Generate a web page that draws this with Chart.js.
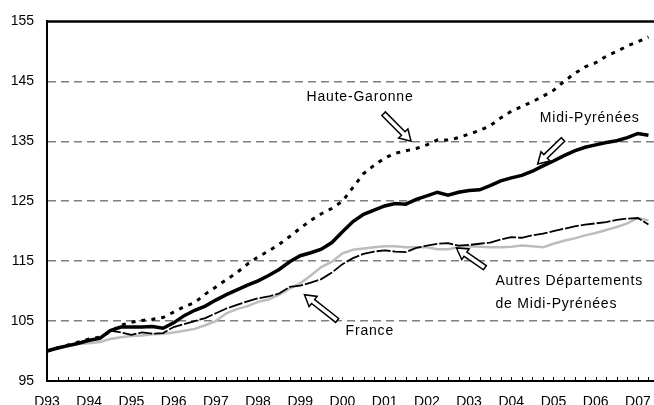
<!DOCTYPE html>
<html>
<head>
<meta charset="utf-8">
<script src="https://cdn.jsdelivr.net/npm/chart.js@4.4.1/dist/chart.umd.min.js"></script>
<style>
  html, body { margin: 0; padding: 0; background: #fff; overflow: hidden; }
  #wrap { width: 654px; height: 405px; overflow: hidden; }
</style>
</head>
<body>
<div id="wrap"><canvas id="myChart" width="664" height="405"></canvas></div>
<script>
// trimestres (D = décembre, M = mars, J = juin, S = septembre)
const quarters = [
  'D93',
  'M94', 'J94', 'S94', 'D94',
  'M95', 'J95', 'S95', 'D95',
  'M96', 'J96', 'S96', 'D96',
  'M97', 'J97', 'S97', 'D97',
  'M98', 'J98', 'S98', 'D98',
  'M99', 'J99', 'S99', 'D99',
  'M00', 'J00', 'S00', 'D00',
  'M01', 'J01', 'S01', 'D01',
  'M02', 'J02', 'S02', 'D02',
  'M03', 'J03', 'S03', 'D03',
  'M04', 'J04', 'S04', 'D04',
  'M05', 'J05', 'S05', 'D05',
  'M06', 'J06', 'S06', 'D06',
  'M07', 'J07', 'S07', 'D07',
  'M08', 'J08'
];

// indices base 100 en D93
const hauteGaronne = [
  100, 100.5, 101, 101.5, 102, 102.3, 103.2, 104.3, 104.8, 105.1,
  105.3, 105.6, 106.5, 107.4, 108.1, 109.5, 110.7, 111.9, 113.1, 114.5,
  115.7, 116.7, 117.8, 119.1, 120.5, 121.8, 122.9, 123.8, 125.0, 127.3,
  129.6, 131.0, 132.2, 133.0, 133.4, 133.8, 134.4, 135.2, 135.2, 135.6,
  136.2, 136.8, 137.6, 138.9, 140.0, 140.8, 141.6, 142.5, 143.5, 145.0,
  146.3, 147.4, 148.1, 149.2, 150.0, 150.9, 151.6, 152.4
];
const midiPyrenees = [
  100, 100.5, 100.9, 101.3, 101.8, 102.1, 103.4, 104.0, 104.0, 104.0,
  104.1, 103.8, 104.7, 105.9, 106.8, 107.5, 108.5, 109.4, 110.2, 111.0,
  111.7, 112.6, 113.6, 114.9, 115.9, 116.4, 117.0, 118.1, 119.9, 121.6,
  122.8, 123.5, 124.2, 124.6, 124.5, 125.3, 125.9, 126.5, 126.0, 126.5,
  126.8, 126.9, 127.6, 128.4, 128.9, 129.3, 130.0, 130.9, 131.7, 132.6,
  133.4, 134.0, 134.4, 134.8, 135.1, 135.6, 136.3, 136.0
];
const autresDep = [
  100, 100.5, 100.9, 101.3, 101.8, 102.1, 103.4, 103.1, 102.7, 103.1,
  102.9, 103.0, 104.0, 104.5, 105.0, 105.5, 106.3, 107.1, 107.7, 108.3,
  108.8, 109.1, 109.6, 110.7, 110.9, 111.4, 112.0, 113.1, 114.5, 115.5,
  116.2, 116.6, 116.8, 116.6, 116.5, 117.2, 117.6, 117.9, 118.0, 117.6,
  117.7, 117.9, 118.1, 118.6, 119.0, 118.9, 119.3, 119.6, 120.0, 120.4,
  120.8, 121.1, 121.3, 121.5, 121.9, 122.1, 122.2, 121.1
];
const france = [
  100, 100.4, 100.8, 101.2, 101.3, 101.5, 102.0, 102.3, 102.5, 102.6,
  102.8, 102.9, 103.1, 103.4, 103.7, 104.3, 105.0, 106.3, 107.0, 107.5,
  108.2, 108.6, 109.4, 110.4, 111.3, 112.6, 114.0, 114.9, 116.3, 116.9,
  117.1, 117.3, 117.5, 117.5, 117.3, 117.3, 117.3, 117.0, 117.0, 117.3,
  117.5, 117.4, 117.3, 117.3, 117.4, 117.6, 117.5, 117.3, 117.9, 118.4,
  118.8, 119.3, 119.7, 120.2, 120.7, 121.3, 122.2, 121.8
];

// textes et flèches (en unités du graphique : indice de trimestre, valeur)
const noteText = ['Haute-Garonne', 'Midi-Pyrénées', 'Autres Départements', 'de Midi-Pyrénées', 'France'];
const noteX = [24.6, 46.7, 42.5, 42.5, 28.3];
const noteY = [142.3, 138.9, 111.6, 107.9, 103.3];
const arrowTail = [[31.9, 139.6], [48.9, 135.3], [41.5, 113.9], [27.5, 105.1]];
const arrowTip  = [[34.5, 135.0], [46.5, 131.2], [38.8, 117.2], [24.4, 109.4]];

const FONT = '"Liberation Sans", Arial, sans-serif';

const frame = {
  id: 'frame',
  afterDraw(chart) {
    const ctx = chart.ctx;
    const a = chart.chartArea;
    const xs = chart.scales.x, ys = chart.scales.y;
    ctx.save();
    // trait du haut
    ctx.strokeStyle = '#000';
    ctx.lineWidth = 2.5;
    ctx.beginPath();
    ctx.moveTo(a.left, a.top);
    ctx.lineTo(a.right, a.top);
    ctx.stroke();
    // petites graduations vers l'intérieur
    ctx.lineWidth = 1;
    ctx.beginPath();
    for (let i = 1; i < quarters.length; i++) {
      const x = Math.round(xs.getPixelForValue(i)) + 0.5;
      ctx.moveTo(x, a.bottom);
      ctx.lineTo(x, a.bottom - 4);
    }
    ctx.stroke();

    // flèches creuses
    for (let k = 0; k < arrowTail.length; k++) {
      const tx = xs.getPixelForValue(arrowTail[k][0]), ty = ys.getPixelForValue(arrowTail[k][1]);
      const px = xs.getPixelForValue(arrowTip[k][0]), py = ys.getPixelForValue(arrowTip[k][1]);
      const len = Math.hypot(px - tx, py - ty);
      const ux = (px - tx) / len, uy = (py - ty) / len;
      const nx = -uy, ny = ux;
      const sw = 2.5, hw = 6.5, hl = 11;
      const hx = px - ux * hl, hy = py - uy * hl;
      ctx.beginPath();
      ctx.moveTo(tx + nx * sw, ty + ny * sw);
      ctx.lineTo(hx + nx * sw, hy + ny * sw);
      ctx.lineTo(hx + nx * hw, hy + ny * hw);
      ctx.lineTo(px, py);
      ctx.lineTo(hx - nx * hw, hy - ny * hw);
      ctx.lineTo(hx - nx * sw, hy - ny * sw);
      ctx.lineTo(tx - nx * sw, ty - ny * sw);
      ctx.closePath();
      ctx.fillStyle = '#fff';
      ctx.fill();
      ctx.lineWidth = 1.5;
      ctx.strokeStyle = '#000';
      ctx.stroke();
    }

    // textes
    ctx.fillStyle = '#000';
    ctx.font = '14px ' + FONT;
    ctx.letterSpacing = '0.8px';
    ctx.textAlign = 'left';
    ctx.textBaseline = 'middle';
    for (let k = 0; k < noteText.length; k++) {
      ctx.fillText(noteText[k], xs.getPixelForValue(noteX[k]), ys.getPixelForValue(noteY[k]));
    }
    ctx.restore();
  }
};

const data = {
  labels: quarters,
  datasets: [
    {
      label: 'Haute-Garonne',
      data: hauteGaronne,
      borderColor: '#000',
      borderWidth: 3,
      borderDash: [4, 6],
      pointRadius: 0
    },
    {
      label: 'Midi-Pyrénées',
      data: midiPyrenees,
      borderColor: '#000',
      borderWidth: 3.5,
      pointRadius: 0
    },
    {
      label: 'Autres Départements de Midi-Pyrénées',
      data: autresDep,
      borderColor: '#000',
      borderWidth: 1.8,
      borderDash: [14, 2],
      pointRadius: 0
    },
    {
      label: 'France',
      data: france,
      borderColor: '#bdbdbd',
      borderWidth: 2.5,
      pointRadius: 0
    }
  ]
};

const config = {
  type: 'line',
  data: data,
  plugins: [frame],
  options: {
    responsive: false,
    animation: false,
    layout: { padding: { top: 19, right: 2, left: 0, bottom: 0 } },
    plugins: {
      legend: { display: false },
      tooltip: { enabled: false }
    },
    scales: {
      x: {
        offset: false,
        grid: { display: false },
        border: { color: '#000', width: 2 },
        ticks: {
          autoSkip: false,
          maxRotation: 0,
          padding: 5,
          color: '#000',
          font: { family: FONT, size: 14 },
          callback: function (v, i) {
            const q = quarters[i];
            return q.charAt(0) === 'D' ? q : '';
          }
        },
        afterFit: s => { s.height = 24; }
      },
      y: {
        min: 95,
        max: 155,
        border: { color: '#000', width: 2, dash: [8, 5] },
        grid: {
          drawTicks: false,
          lineWidth: 1.5,
          color: c => (c.tick.value === 95 || c.tick.value === 155) ? 'rgba(0,0,0,0)' : '#7f7f7f'
        },
        ticks: {
          stepSize: 10,
          padding: 13,
          color: '#000',
          font: { family: FONT, size: 14 }
        },
        afterFit: s => { s.width = 47; }
      }
    }
  }
};

const myChart = new Chart(document.getElementById('myChart'), config);
</script>
</body>
</html>
